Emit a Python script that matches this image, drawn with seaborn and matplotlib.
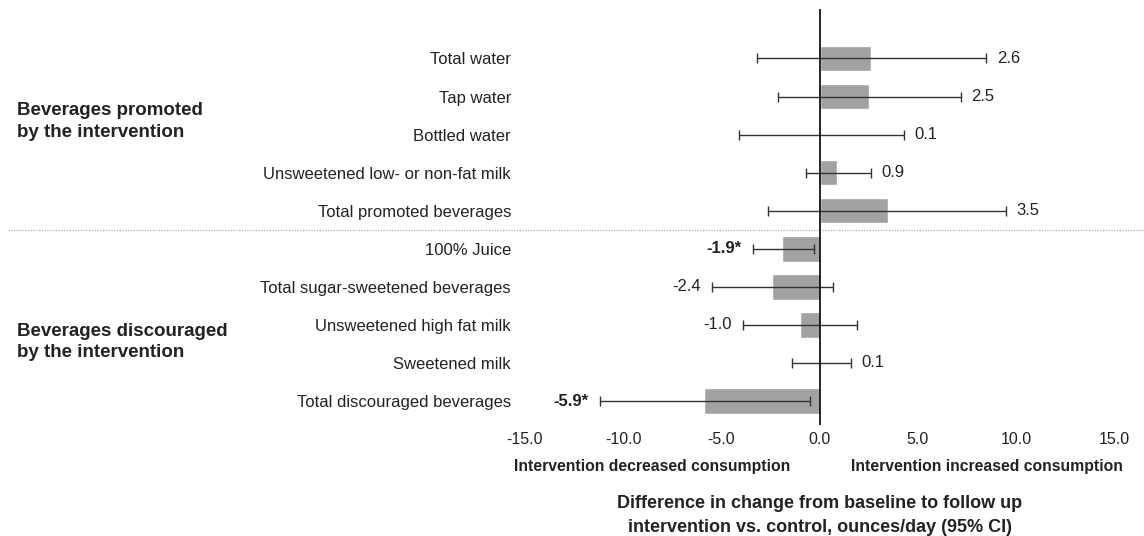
import pandas as pd
import seaborn as sns
import matplotlib.pyplot as plt
import matplotlib.transforms as mtransforms

# ================= data =================
ITEMS = [
    "Total water",
    "Tap water",
    "Bottled water",
    "Unsweetened low- or non-fat milk",
    "Total promoted beverages",
    "100% Juice",
    "Total sugar-sweetened beverages",
    "Unsweetened high fat milk",
    "Sweetened milk",
    "Total discouraged beverages",
]
DIFF = [2.6, 2.5, 0.1, 0.9, 3.5, -1.9, -2.4, -1.0, 0.1, -5.9]
CI_LOW = [-3.2, -2.1, -4.1, -0.7, -2.6, -3.4, -5.5, -3.9, -1.4, -11.2]
CI_HIGH = [8.5, 7.2, 4.3, 2.6, 9.5, -0.3, 0.7, 1.9, 1.6, -0.5]
SIGNIF = [False, False, False, False, False, True, False, False, False, True]
GROUPS = ["Beverages promoted\nby the intervention",
          "Beverages discouraged\nby the intervention"]
X_TICKS = [-15, -10, -5, 0, 5, 10, 15]
# =========================================

sns.set_theme(style="white")
plt.rcParams['font.family'] = ['Liberation Sans', 'DejaVu Sans']
TXT = "#222222"

df = pd.DataFrame({"item": ITEMS, "diff": DIFF, "lo": CI_LOW, "hi": CI_HIGH})

fig = plt.figure(figsize=(11.44, 5.36), dpi=100)
ax = fig.add_axes([0.4589, 0.2071, 0.5149, 0.7761])

sns.barplot(data=df, x="diff", y="item", orient="h", color="#a2a2a2",
            saturation=1, width=0.67, ax=ax)

ypos = list(range(len(ITEMS)))
ax.errorbar(df["diff"], ypos,
            xerr=[df["diff"] - df["lo"], df["hi"] - df["diff"]],
            fmt="none", ecolor="#333333", elinewidth=1, capsize=3.5,
            capthick=1, zorder=3)

# value labels next to the CI ends
for i, (v, lo, hi, sig) in enumerate(zip(DIFF, CI_LOW, CI_HIGH, SIGNIF)):
    txt = f"{v:.1f}" + ("*" if sig else "")
    weight = "bold" if sig else "normal"
    if v < 0:
        ax.annotate(txt, xy=(lo, i), xytext=(-8, 0), textcoords="offset points",
                    ha="right", va="center", fontsize=12, fontweight=weight, color=TXT)
    else:
        ax.annotate(txt, xy=(hi, i), xytext=(7.5, 0), textcoords="offset points",
                    ha="left", va="center", fontsize=12, fontweight=weight, color=TXT)

ax.axvline(0, color="black", lw=1.2, zorder=4)

ax.set_xlim(-15, 15)
ax.set_ylim(9.63, -1.30)
ax.set_xticks(X_TICKS)
ax.set_xticklabels([f"{t:.1f}" for t in X_TICKS], fontsize=11.5, color=TXT)
ax.set_yticks(ypos)
ax.set_yticklabels(ITEMS, fontsize=12, color=TXT)
ax.tick_params(axis="both", length=0)
ax.tick_params(axis="y", pad=10)
ax.tick_params(axis="x", pad=5)
ax.set_xlabel("")
ax.set_ylabel("")
for s in ax.spines.values():
    s.set_visible(False)

# dotted separator across the whole figure
trans = mtransforms.blended_transform_factory(fig.transFigure, ax.transData)
ax.plot([0.007, 1.0], [4.5, 4.5], transform=trans, color="#bbbbbb",
        lw=1, ls=(0, (1, 1)), clip_on=False)

# group labels
ax.text(0.0146, 1.66, GROUPS[0], transform=trans, ha="left", va="center",
        fontsize=13.5, fontweight="bold", color=TXT, linespacing=1.35)
ax.text(0.0146, 7.45, GROUPS[1], transform=trans, ha="left", va="center",
        fontsize=13.5, fontweight="bold", color=TXT, linespacing=1.35)

# direction annotations
trans2 = mtransforms.blended_transform_factory(ax.transData, ax.transAxes)
ax.text(-1.5, -0.0986, "Intervention decreased consumption", transform=trans2,
        ha="right", va="center", fontsize=11.3, fontweight="bold", color=TXT)
ax.text(1.6, -0.0986, "Intervention increased consumption", transform=trans2,
        ha="left", va="center", fontsize=11.3, fontweight="bold", color=TXT)

fig.text(0.7168, 0.038,
         "Difference in change from baseline to follow up\n"
         "intervention vs. control, ounces/day (95% CI)",
         ha="center", va="center", fontsize=13, fontweight="bold",
         color=TXT, linespacing=1.5)

fig.savefig("out.png", dpi=100)
